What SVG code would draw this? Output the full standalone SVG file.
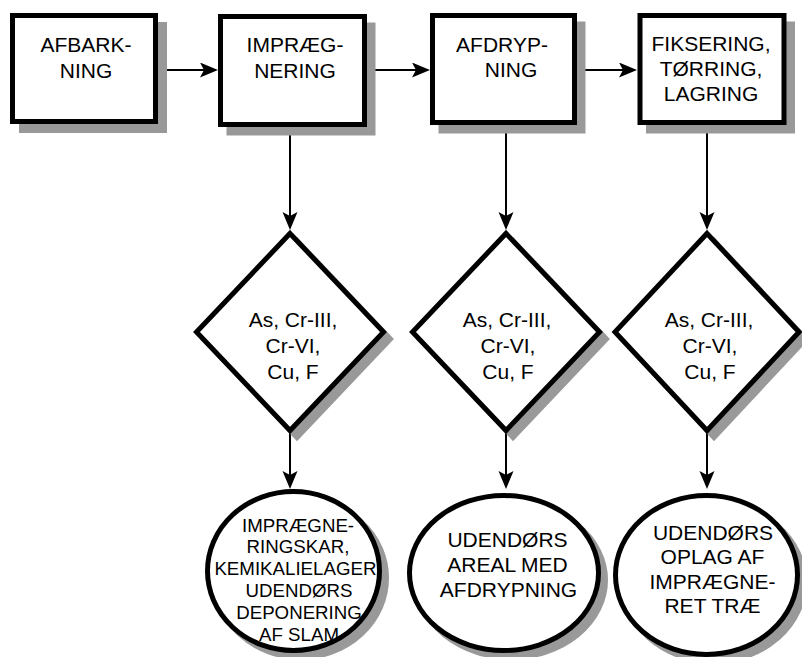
<svg xmlns="http://www.w3.org/2000/svg" width="802" height="657" viewBox="0 0 802 657">
  <defs>
    <marker id="arrow" markerUnits="userSpaceOnUse" markerWidth="20" markerHeight="16" refX="4" refY="7.5" orient="auto">
      <path d="M0,0 L18,7.5 L0,15 L4,7.5 Z" fill="#000"/>
    </marker>
    <style>
      .shadow { fill: #999; stroke: #999; stroke-width: 5; }
      .shape { fill: #fff; stroke: #000; stroke-width: 5; }
      .conn { stroke: #000; stroke-width: 2; fill: none; marker-end: url(#arrow); }
      .lbl { font-family: "Liberation Sans", Arial, sans-serif; font-size: 21px; fill: #000; text-anchor: middle; }
      .small { font-size: 18.7px; }
    </style>
  </defs>
  <rect width="802" height="657" fill="#fff"/>

  <!-- connectors -->
  <g id="connectors">
    <line class="conn" x1="158" y1="70" x2="204" y2="70"/>
    <line class="conn" x1="367" y1="70" x2="416" y2="70"/>
    <line class="conn" x1="577" y1="70" x2="623" y2="70"/>
    <line class="conn" x1="290" y1="127" x2="290" y2="216"/>
    <line class="conn" x1="506" y1="125" x2="506" y2="216"/>
    <line class="conn" x1="707" y1="125" x2="707" y2="216"/>
    <line class="conn" x1="290" y1="433" x2="290" y2="475"/>
    <line class="conn" x1="506" y1="433" x2="506" y2="475"/>
    <line class="conn" x1="707" y1="433" x2="707" y2="475"/>
  </g>

  <!-- process boxes -->
  <g id="afbarkning">
    <rect class="shadow" x="21.5" y="24.5" width="143" height="106"/>
    <rect class="shape" x="12.5" y="15.5" width="143" height="106"/>
    <text class="lbl" x="86" y="52">AFBARK-</text>
    <text class="lbl" x="86" y="78">NING</text>
  </g>
  <g id="impraegnering">
    <rect class="shadow" x="229" y="25" width="144" height="108"/>
    <rect class="shape" x="220.5" y="16.5" width="144" height="108"/>
    <text class="lbl" x="295" y="52">IMPRÆG-</text>
    <text class="lbl" x="295" y="78">NERING</text>
  </g>
  <g id="afdrypning">
    <rect class="shadow" x="441" y="24" width="142" height="107"/>
    <rect class="shape" x="432.5" y="15.5" width="142" height="107"/>
    <text class="lbl" x="502" y="52">AFDRYP-</text>
    <text class="lbl" x="511" y="77">NING</text>
  </g>
  <g id="fiksering">
    <rect class="shadow" x="648.5" y="24" width="144" height="107"/>
    <rect class="shape" x="640" y="15.5" width="144" height="107"/>
    <text class="lbl" x="711" y="51">FIKSERING,</text>
    <text class="lbl" x="711" y="76">TØRRING,</text>
    <text class="lbl" x="711" y="101">LAGRING</text>
  </g>

  <!-- substance diamonds -->
  <g id="stoffer-1">
    <polygon class="shadow" points="297,240.5 390.5,339 297,437.5 203.5,339"/>
    <polygon class="shape" points="290,233.5 383.5,332 290,430.5 196.5,332"/>
    <text class="lbl" x="293" y="327">As, Cr-III,</text>
    <text class="lbl" x="293" y="353">Cr-VI,</text>
    <text class="lbl" x="293" y="379">Cu, F</text>
  </g>
  <g id="stoffer-2">
    <polygon class="shadow" points="513,240.5 606.5,339 513,437.5 419.5,339"/>
    <polygon class="shape" points="506,233.5 599.5,332 506,430.5 412.5,332"/>
    <text class="lbl" x="507" y="327">As, Cr-III,</text>
    <text class="lbl" x="508" y="353">Cr-VI,</text>
    <text class="lbl" x="508" y="379">Cu, F</text>
  </g>
  <g id="stoffer-3">
    <polygon class="shadow" points="714,240.5 806,339 714,437.5 622,339"/>
    <polygon class="shape" points="707,233.5 799,332 707,430.5 615,332"/>
    <text class="lbl" x="709" y="327">As, Cr-III,</text>
    <text class="lbl" x="710" y="353">Cr-VI,</text>
    <text class="lbl" x="710" y="379">Cu, F</text>
  </g>

  <!-- storage/location ellipses -->
  <g id="sted-1">
    <ellipse class="shadow" cx="300.5" cy="578" rx="86" ry="79.5"/>
    <ellipse class="shape" cx="293.5" cy="571" rx="86" ry="79.5"/>
    <text class="lbl small" x="298" y="531.5">IMPRÆGNE-</text>
    <text class="lbl small" x="298" y="553">RINGSKAR,</text>
    <text class="lbl small" x="298" y="574.5">KEMIKALIELAGER,</text>
    <text class="lbl small" x="299" y="596.5">UDENDØRS</text>
    <text class="lbl small" x="299" y="618.5">DEPONERING</text>
    <text class="lbl small" x="299" y="641">AF SLAM</text>
  </g>
  <g id="sted-2">
    <ellipse class="shadow" cx="511" cy="580" rx="94.5" ry="77.5"/>
    <ellipse class="shape" cx="504" cy="573" rx="94.5" ry="77.5"/>
    <text class="lbl" x="507.5" y="546.5">UDENDØRS</text>
    <text class="lbl" x="507.5" y="572">AREAL MED</text>
    <text class="lbl" x="508.5" y="597">AFDRYPNING</text>
  </g>
  <g id="sted-3">
    <ellipse class="shadow" cx="713.5" cy="582" rx="91" ry="79.5"/>
    <ellipse class="shape" cx="706.5" cy="575" rx="91" ry="79.5"/>
    <text class="lbl" x="713" y="540">UDENDØRS</text>
    <text class="lbl" x="712.5" y="564">OPLAG AF</text>
    <text class="lbl" x="712.5" y="588.5">IMPRÆGNE-</text>
    <text class="lbl" x="712.5" y="613">RET TRÆ</text>
  </g>
</svg>
